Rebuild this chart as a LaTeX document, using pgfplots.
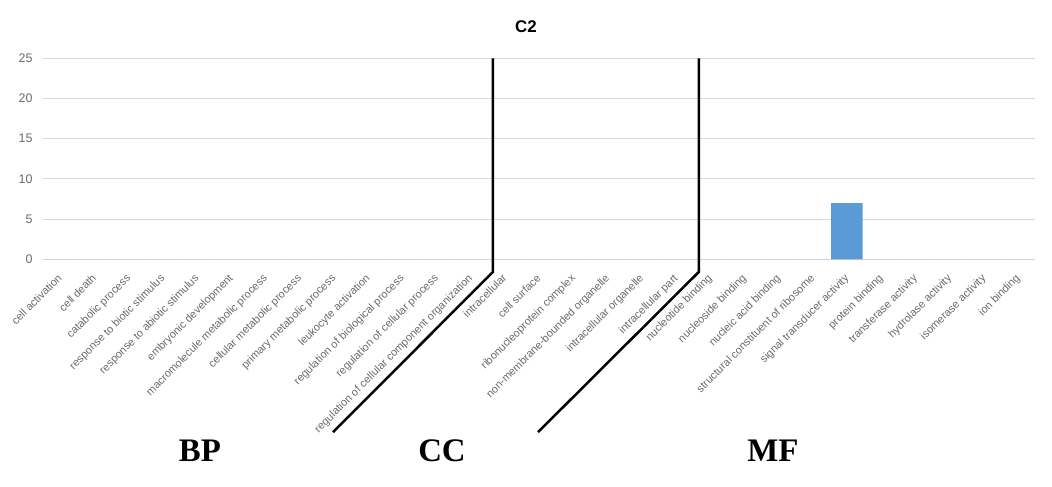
\documentclass[border=0pt]{standalone}
\usepackage{pgfplots}
\pgfplotsset{compat=1.18}
\usepackage{fontspec}
\setmainfont{Liberation Sans}
\newfontfamily\serifbold{Liberation Serif}
\definecolor{barblue}{HTML}{5B9BD5}
\definecolor{tickgray}{HTML}{6A6A6A}
\definecolor{gridgray}{HTML}{D9D9D9}
\begin{document}
\begin{tikzpicture}[x=1bp,y=1bp]
\path[use as bounding box] (0,0) rectangle (1052,487);
\node[font=\bfseries\fontsize{17}{20}\selectfont, anchor=base] at (526,454) {C2};
\begin{axis}[
  at={(43bp,227.7bp)}, anchor=south west,
  width=992bp, height=201bp, scale only axis,
  xmin=-0.5, xmax=28.5, ymin=0, ymax=25,
  ytick={0,5,10,15,20,25},
  ymajorgrids, grid style={gridgray, line width=0.9bp},
  axis line style={draw=none}, tick style={draw=none}, major tick length=0pt,
  xtick={0,...,28},
  xticklabels={cell activation, cell death, catabolic process, response to biotic stimulus, response to abiotic stimulus, embryonic development, macromolecule metabolic process, cellular metabolic process, primary metabolic process, leukocyte activation, regulation of biological process, regulation of cellular process, regulation of cellular component organization, intracellular, cell surface, ribonucleoprotein complex, non-membrane-bounded organelle, intracellular organelle, intracellular part, nucleotide binding, nucleoside binding, nucleic acid binding, structural constituent of ribosome, signal transducer activity, protein binding, transferase activity, hydrolase activity, isomerase activity, ion binding},
  xticklabel style={rotate=45, anchor=north east, font=\fontsize{11}{13}\selectfont, text=tickgray, inner sep=1bp, xshift=-11bp, yshift=-6.5bp},
  yticklabel style={font=\fontsize{12.5}{14}\selectfont, text=tickgray, xshift=-7bp},
  /pgf/number format/assume math mode=true,
  clip=false,
  ybar, bar width=31.7bp,
]
\addplot[fill=barblue, draw=none] coordinates {
(0,0) (1,0) (2,0) (3,0) (4,0) (5,0) (6,0) (7,0) (8,0) (9,0) (10,0) (11,0) (12,0)
(13,0) (14,0) (15,0) (16,0) (17,0) (18,0)
(19,0) (20,0) (21,0) (22,0) (23,7) (24,0) (25,0) (26,0) (27,0) (28,0)};
\draw[black, line width=2.5bp] (axis cs:12.65,25) -- (axis cs:12.65,-1.58) -- (axis cs:7.98,-21.5);
\draw[black, line width=2.5bp] (axis cs:18.67,25) -- (axis cs:18.67,-1.58) -- (axis cs:13.97,-21.5);
\end{axis}
\node[font=\serifbold\bfseries\fontsize{33}{36}\selectfont, anchor=base] at (200,25) {BP};
\node[font=\serifbold\bfseries\fontsize{33}{36}\selectfont, anchor=base] at (442,25) {CC};
\node[font=\serifbold\bfseries\fontsize{33}{36}\selectfont, anchor=base] at (773,25) {MF};
\end{tikzpicture}
\end{document}
